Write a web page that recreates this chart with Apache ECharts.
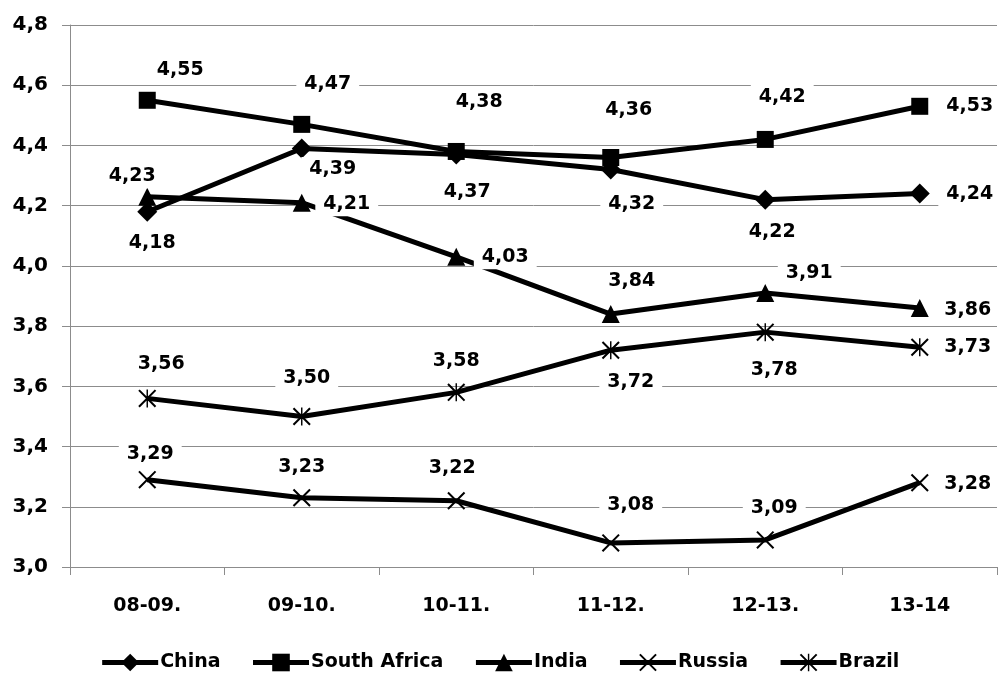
<!DOCTYPE html>
<html>
<head>
<meta charset="utf-8">
<script src="https://cdn.jsdelivr.net/npm/echarts@6/dist/echarts.min.js"></script>
<style>html,body{margin:0;padding:0;background:#fff}#c{width:999px;height:687px}</style>
</head>
<body>
<div id="c"></div>
<script>
const categories = ['08-09.', '09-10.', '10-11.', '11-12.', '12-13.', '13-14'];
const china = [4.18, 4.39, 4.37, 4.32, 4.22, 4.24];
const southAfrica = [4.55, 4.47, 4.38, 4.36, 4.42, 4.53];
const india = [4.23, 4.21, 4.03, 3.84, 3.91, 3.86];
const russia = [3.29, 3.23, 3.22, 3.08, 3.09, 3.28];
const brazil = [3.56, 3.50, 3.58, 3.72, 3.78, 3.73];
const yTicks = [3.0, 3.2, 3.4, 3.6, 3.8, 4.0, 4.2, 4.4, 4.6, 4.8];

// label offsets (layout only)
const offChina = [[5,31],[31,21],[11,38],[21,35],[7,32],[50,0]];
const offSA = [[33,-30],[26,-40],[23,-49],[18,-47],[17,-42],[50,0]];
const offIndia = [[-15,-21],[45,1],[49,0],[21,-33],[44,-20],[48,2]];
const offRussia = [[3,-26],[0,-31],[-4,-33],[20,-38],[9,-32],[48,1]];
const offBrazil = [[14,-34],[5,-38],[0,-31],[20,32],[9,38],[48,0]];

const FONT = 'DejaVu Sans';
const X_PATH = 'path://M0,1.6L1.6,0L20,18.4L18.4,20ZM18.4,0L20,1.6L1.6,20L0,18.4Z';
const AST_PATH = 'path://M0,1.6L1.6,0L20,18.4L18.4,20ZM18.4,0L20,1.6L1.6,20L0,18.4ZM9.2,0L10.8,0L10.8,20L9.2,20Z';

function mk(name, vals, offs, symbol, size) {
  return {
    name: name, type: 'line', symbol: symbol, symbolSize: size,
    lineStyle: {color: '#000', width: 5},
    itemStyle: {color: '#000'},
    data: vals.map((v, i) => ({value: v, label: {offset: offs[i]}})),
    label: {
      show: true, position: 'inside', color: '#000',
      fontFamily: FONT, fontWeight: 'bold', fontSize: 19,
      backgroundColor: '#fff', padding: [3, 8],
      formatter: p => p.value.toFixed(2).replace('.', ',')
    },
    emphasis: {disabled: true},
    animation: false
  };
}

const chart = echarts.init(document.getElementById('c'));
chart.setOption({
  backgroundColor: '#fff',
  animation: false,
  grid: {left: 70, right: 2, top: 25, bottom: 120},
  legend: {
    bottom: 10, left: 'center', itemWidth: 56, itemHeight: 22, itemGap: 30,
    lineStyle: {width: 5, color: '#000'},
    textStyle: {fontFamily: FONT, fontWeight: 'bold', fontSize: 19, color: '#000', padding: [0, 0, 0, -3]},
    data: ['China', 'South Africa', 'India', 'Russia', 'Brazil']
  },
  xAxis: {
    type: 'category', data: categories, boundaryGap: true,
    axisLine: {lineStyle: {color: '#8c8c8c', width: 1}},
    axisTick: {show: true, length: 8, lineStyle: {color: '#8c8c8c'}},
    axisLabel: {margin: 30, color: '#000', fontFamily: FONT, fontWeight: 'bold', fontSize: 19}
  },
  yAxis: {
    type: 'value', min: 3.0, max: 4.8, interval: 0.2,
    axisLine: {show: true, lineStyle: {color: '#8c8c8c', width: 1}},
    axisTick: {show: true, length: 8, lineStyle: {color: '#8c8c8c'}},
    splitLine: {lineStyle: {color: '#8c8c8c', width: 1}},
    axisLabel: {margin: 22, color: '#000', fontFamily: FONT, fontWeight: 'bold', fontSize: 20,
      formatter: v => { const t = yTicks.find(x => Math.abs(x - v) < 1e-6); return (t !== undefined ? t : v).toFixed(1).replace('.', ','); }}
  },
  series: [
    mk('China', china, offChina, 'diamond', 20),
    mk('South Africa', southAfrica, offSA, 'rect', 17),
    mk('India', india, offIndia, 'triangle', 18),
    mk('Russia', russia, offRussia, X_PATH, 18),
    mk('Brazil', brazil, offBrazil, AST_PATH, 18)
  ]
});
</script>
</body>
</html>
